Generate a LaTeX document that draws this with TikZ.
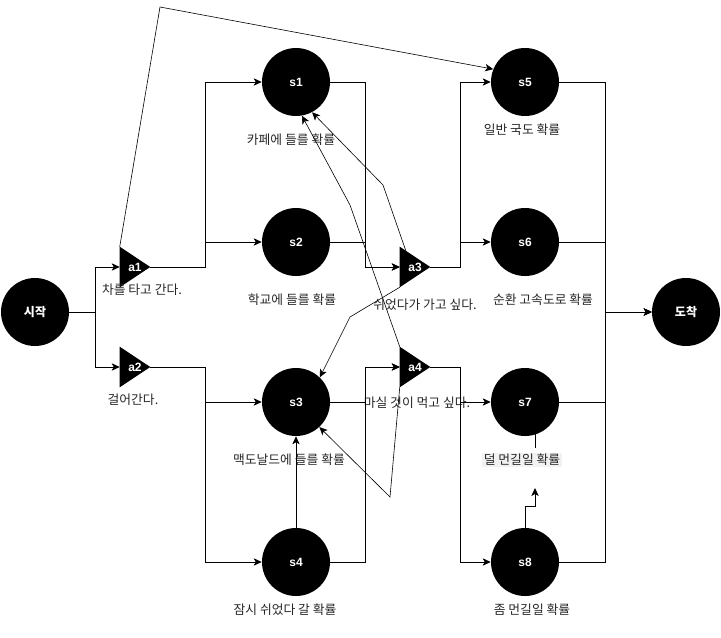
\documentclass[tikz,border=0pt]{standalone}
\usepackage{fontspec}
\setmainfont{Liberation Sans}
\newfontfamily\kr{Noto Sans CJK KR}
\usetikzlibrary{arrows.meta,backgrounds,calc}
\begin{document}
\begin{tikzpicture}[x=0.75pt,y=-0.75pt,
 st/.style={circle,fill=black,minimum size=51pt,inner sep=0pt,text=white,font=\bfseries\fontsize{9}{11}\selectfont},
 stk/.style={st,font=\kr\bfseries\fontsize{9}{11}\selectfont},
 act/.style={rectangle,minimum width=22.5pt,minimum height=30pt,inner sep=0pt,text=white,font=\bfseries\fontsize{9}{11}\selectfont},
 lbl/.style={inner sep=0pt,text=black!85,font=\kr\fontsize{9.6}{11}\selectfont},
 conn/.style={line width=0.65pt,-{Stealth[length=6pt,width=5.5pt,inset=1.5pt]}},
 thinconn/.style={line width=0.45pt,-{Stealth[length=6pt,width=5.5pt,inset=1.5pt]}},
 plainline/.style={line width=0.65pt}]
\useasboundingbox (0,0) rectangle (721,638);

% states
\node[stk] (start) at (35,312) {시작};
\node[stk] (goal) at (686,312) {도착};
\node[st] (s1) at (296,82) {s1};
\node[st] (s2) at (296,242) {s2};
\node[st] (s3) at (296,402) {s3};
\node[st] (s4) at (296,562) {s4};
\node[st] (s5) at (525,82) {s5};
\node[st] (s6) at (525,242) {s6};
\node[st] (s7) at (525,402) {s7};
\node[st] (s8) at (525,562) {s8};

% actions
\node[act] (a1) at (135,267) {a1};
\node[act] (a2) at (135,367) {a2};
\node[act] (a3) at (415,267) {a3};
\node[act] (a4) at (415,367) {a4};
\begin{scope}[on background layer]
\foreach \a in {a1,a2,a3,a4}
  \fill (\a.north west) -- (\a.east) -- (\a.south west) -- cycle;
\end{scope}

% labels
\node[lbl] (l1) at (291,140) {카페에 들를 확률};
\node[lbl] (l2) at (292,300) {학교에 들를 확률};
\node[lbl] (l3) at (289,460) {맥도날드에 들를 확률};
\node[lbl] (l4) at (285,610) {잠시 쉬었다 갈 확률};
\node[lbl] (l5) at (522,130) {일반 국도 확률};
\node[lbl] (l6) at (543,300) {순환 고속도로 확률};
\node[lbl,fill=black!5,inner sep=1pt] (l7) at (522,460) {덜 먼길일 확률};
\node[lbl] (l8) at (532,610) {좀 먼길일 확률};
\node[lbl] (la1) at (142,290) {차를 타고 간다.};
\node[lbl] (la2) at (133,400) {걸어간다.};
\node[lbl] (la3) at (425,305) {쉬었다가 가고 싶다.};
\node[lbl] (la4) at (417,403) {마실 것이 먹고 싶다.};

% orthogonal connectors
\draw[conn] (start.east) -- ++(26,0) |- (a1.west);
\draw[conn] (start.east) -- ++(26,0) |- (a2.west);
\draw[conn] (a1.east) -- ++(55,0) |- (s1.west);
\draw[conn] (a1.east) -- ++(55,0) |- (s2.west);
\draw[conn] (a2.east) -- ++(55,0) |- (s3.west);
\draw[conn] (a2.east) -- ++(55,0) |- (s4.west);
\draw[conn] (s1.east) -- ++(35,0) |- (a3.west);
\draw[conn] (s2.east) -- ++(35,0) |- (a3.west);
\draw[conn] (s3.east) -- ++(35,0) |- (a4.west);
\draw[conn] (s4.east) -- ++(35,0) |- (a4.west);
\draw[conn] (a3.east) -- ++(30,0) |- (s5.west);
\draw[conn] (a3.east) -- ++(30,0) |- (s6.west);
\draw[conn] (a4.east) -- ++(30,0) |- (s7.west);
\draw[conn] (a4.east) -- ++(30,0) |- (s8.west);
\draw[conn] (s5.east) -- ++(46,0) |- (goal.west);
\draw[conn] (s6.east) -- ++(46,0) |- (goal.west);
\draw[conn] (s7.east) -- ++(46,0) |- (goal.west);
\draw[conn] (s8.east) -- ++(46,0) |- (goal.west);
\draw[conn] (s4.north) -- (s3.south);

% dangling pieces near s7/s8
\coordinate (s8t) at (535,488);
\coordinate (s7t) at (535,448);
\draw[conn] (s8.north) -- ++(0,-21) -| (s8t);
\draw[plainline] (s7t) -- (s7t |- s7.center);

% free-form connectors
\coordinate (k1) at (160,7);
\draw[thinconn] (a1.north west) -- (k1) -- (s5.158);
\coordinate (k2) at (383,185);
\draw[thinconn] ($(a3.north west)!0.2!(a3.east)$) -- (k2) -- (s1.-62);
\coordinate (k3) at (350,205);
\draw[thinconn] (a4.north west) -- (k3) -- (s1.-80);
\coordinate (k4) at (350,317);
\draw[thinconn] (a3.south west) -- (k4) -- (s3.46);
\coordinate (k5) at (390,497);
\draw[thinconn] (a4.south west) -- (k5) -- (s3.-47);
\end{tikzpicture}
\end{document}
